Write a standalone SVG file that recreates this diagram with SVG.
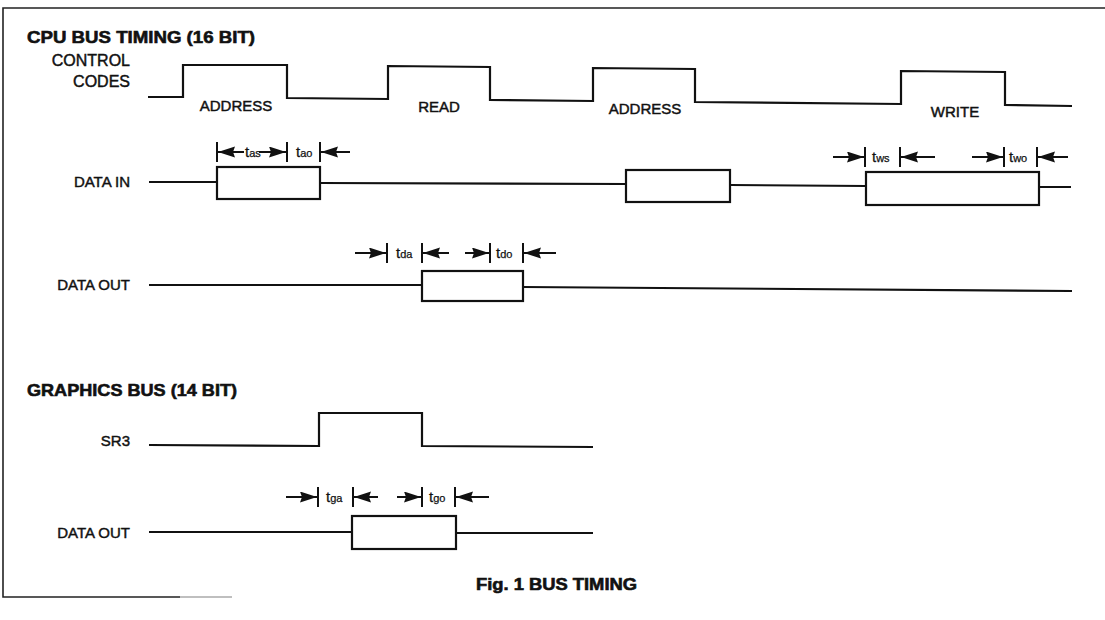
<svg xmlns="http://www.w3.org/2000/svg" width="1105" height="620" viewBox="0 0 1105 620">
<defs>
<style>
.sig{fill:none;stroke:#111;stroke-width:2.2;stroke-linejoin:miter}
.box{fill:#fff;stroke:#111;stroke-width:2.2}
.tick{stroke:#111;stroke-width:2}
.arr{stroke:#111;stroke-width:2;marker-end:url(#ah)}
.lbl{font-family:"Liberation Sans",Arial,sans-serif;font-size:15px;fill:#111;stroke:#111;stroke-width:0.45}
.ttl{font-family:"Liberation Sans",Arial,sans-serif;font-size:17px;font-weight:bold;fill:#111;stroke:#111;stroke-width:0.6}
.tm{font-family:"Liberation Sans",Arial,sans-serif;font-size:15px;fill:#111;stroke:#111;stroke-width:0.25}
.sub{font-size:11px}
.frame{fill:none;stroke:#222;stroke-width:1.6}
</style>
<marker id="ah" markerUnits="userSpaceOnUse" markerWidth="20" markerHeight="12" refX="17" refY="5.5" orient="auto">
<path d="M0,0 L17,5.5 L0,11 L2,5.5 Z" fill="#111"/>
</marker>
</defs>
<rect width="1105" height="620" fill="#fff"/>

<g id="frame">
<path class="frame" d="M1105,8 L3,8 L3,597 L180,597"/>
<line x1="180" y1="597" x2="232" y2="597" stroke="#aaa" stroke-width="1.6"/>
</g>

<g id="titles">
<text class="ttl" x="27" y="43" textLength="228" lengthAdjust="spacingAndGlyphs">CPU BUS TIMING (16 BIT)</text>
<text class="ttl" x="27" y="396" textLength="210" lengthAdjust="spacingAndGlyphs">GRAPHICS BUS (14 BIT)</text>
<text class="ttl" x="476" y="590" textLength="161" lengthAdjust="spacingAndGlyphs" style="font-size:16px">Fig. 1  BUS TIMING</text>
</g>

<g id="control-codes">
<text class="lbl" x="130" y="66" text-anchor="end" style="font-size:16px">CONTROL</text>
<text class="lbl" x="130" y="87" text-anchor="end" style="font-size:16px">CODES</text>
<path class="sig" d="M148,97 L183,97 L183,65 L287,65 L287,98 L388,99 L388,66 L490,67 L490,100 L593,101 L593,68 L695,69 L695,102 L901,104 L901,71 L1005,72 L1005,105 L1072,106"/>
<text class="lbl" x="236" y="111" text-anchor="middle">ADDRESS</text>
<text class="lbl" x="439" y="112" text-anchor="middle">READ</text>
<text class="lbl" x="645" y="114" text-anchor="middle">ADDRESS</text>
<text class="lbl" x="955" y="117" text-anchor="middle">WRITE</text>
</g>

<g id="data-in">
<text class="lbl" x="130" y="187" text-anchor="end">DATA IN</text>
<path class="sig" d="M149,182 L217,182 M320,183 L626,184 M730,185 L866,186 M1039,187 L1071,187"/>
<rect class="box" x="217" y="167" width="103" height="32"/>
<rect class="box" x="626" y="170" width="104" height="32"/>
<rect class="box" x="866" y="172" width="173" height="33"/>
</g>

<g id="data-out-cpu">
<text class="lbl" x="130" y="290" text-anchor="end">DATA OUT</text>
<path class="sig" d="M149,285 L422,285 M523,287 L1072,291"/>
<rect class="box" x="422" y="271" width="101" height="30"/>
</g>

<g id="sr3">
<text class="lbl" x="130" y="446" text-anchor="end">SR3</text>
<path class="sig" d="M149,445 L319,446 L319,413 L422,413 L422,446 L593,447"/>
</g>

<g id="data-out-gfx">
<text class="lbl" x="130" y="538" text-anchor="end">DATA OUT</text>
<path class="sig" d="M149,532 L352,532 M456,533 L593,533"/>
<rect class="box" x="352" y="516" width="104" height="33"/>
</g>

<g id="connectors">
<line class="tick" x1="217" y1="142" x2="217" y2="162"/>
<line class="tick" x1="287" y1="142" x2="287" y2="162"/>
<line class="tick" x1="320" y1="142" x2="320" y2="162"/>
<line class="arr" x1="244" y1="152" x2="218" y2="152"/>
<line class="arr" x1="259" y1="152" x2="286" y2="152"/>
<line class="arr" x1="350" y1="152" x2="321" y2="152"/>
<line class="tick" x1="387" y1="243" x2="387" y2="263"/>
<line class="tick" x1="422" y1="243" x2="422" y2="263"/>
<line class="tick" x1="490" y1="243" x2="490" y2="263"/>
<line class="tick" x1="523" y1="243" x2="523" y2="263"/>
<line class="arr" x1="355" y1="253" x2="386" y2="253"/>
<line class="arr" x1="449" y1="253" x2="423" y2="253"/>
<line class="arr" x1="465" y1="253" x2="489" y2="253"/>
<line class="arr" x1="556" y1="253" x2="524" y2="253"/>
<line class="tick" x1="865" y1="147" x2="865" y2="167"/>
<line class="tick" x1="900" y1="147" x2="900" y2="167"/>
<line class="tick" x1="1004" y1="147" x2="1004" y2="167"/>
<line class="tick" x1="1037" y1="147" x2="1037" y2="167"/>
<line class="arr" x1="833" y1="157" x2="864" y2="157"/>
<line class="arr" x1="935" y1="157" x2="901" y2="157"/>
<line class="arr" x1="972" y1="157" x2="1003" y2="157"/>
<line class="arr" x1="1068" y1="157" x2="1038" y2="157"/>
<line class="tick" x1="318" y1="487" x2="318" y2="507"/>
<line class="tick" x1="353" y1="487" x2="353" y2="507"/>
<line class="tick" x1="422" y1="487" x2="422" y2="507"/>
<line class="tick" x1="455" y1="487" x2="455" y2="507"/>
<line class="arr" x1="286" y1="497" x2="317" y2="497"/>
<line class="arr" x1="378" y1="497" x2="354" y2="497"/>
<line class="arr" x1="397" y1="497" x2="421" y2="497"/>
<line class="arr" x1="489" y1="497" x2="456" y2="497"/>
</g>

<g id="timing-labels">
<text class="tm" x="245" y="157">t<tspan class="sub">as</tspan></text>
<text class="tm" x="296" y="157">t<tspan class="sub">ao</tspan></text>
<text class="tm" x="396" y="258">t<tspan class="sub">da</tspan></text>
<text class="tm" x="496" y="258">t<tspan class="sub">do</tspan></text>
<text class="tm" x="872" y="162">t<tspan class="sub">ws</tspan></text>
<text class="tm" x="1009" y="162">t<tspan class="sub">wo</tspan></text>
<text class="tm" x="326" y="502">t<tspan class="sub">ga</tspan></text>
<text class="tm" x="429" y="502">t<tspan class="sub">go</tspan></text>
</g>
</svg>
